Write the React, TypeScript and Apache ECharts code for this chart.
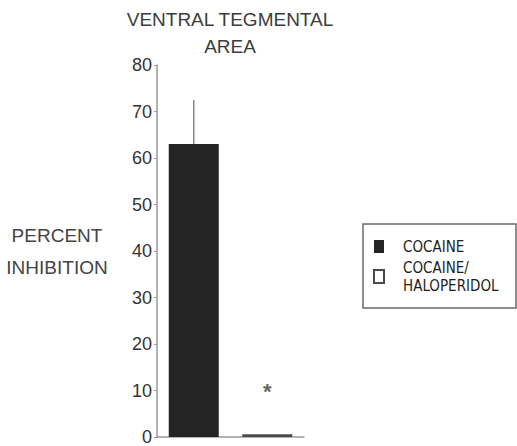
import React, { useEffect, useRef } from "react";
import * as echarts from "echarts";

// Treatment groups and measured inhibition (%) in the ventral tegmental area
const treatments = ["COCAINE", "COCAINE/HALOPERIDOL"];
const meanInhibition = [63, 0.6];
const errorUpper = [72.5, null];
const significanceMark = ["", "*"];
const significanceLevel = [null, 11];

// Y axis scale
const yMin = 0;
const yMax = 80;
const yStep = 10;

const barColors = ["#242424", "#ffffff"];
const barBorders = ["#242424", "#4a4a4a"];

export default function App() {
  const ref = useRef<HTMLDivElement>(null);

  useEffect(() => {
    if (!ref.current) return;
    const chart = echarts.init(ref.current, null, { renderer: "svg" });

    const barSeries = treatments.map((name, i) => ({
      name,
      type: "bar",
      barWidth: 50,
      barGap: "-100%",
      data: treatments.map((_, j) => (j === i ? meanInhibition[j] : "-")),
      itemStyle: {
        color: barColors[i],
        borderColor: barBorders[i],
        borderWidth: i === 0 ? 0 : 1.5,
      },
    }));

    const errorData = errorUpper
      .map((hi, i) => (hi == null ? null : [i, meanInhibition[i], hi]))
      .filter((d) => d !== null);

    const markData = significanceLevel
      .map((lv, i) => (lv == null ? null : { value: [i, lv], mark: significanceMark[i] }))
      .filter((d) => d !== null);

    chart.setOption({
      animation: false,
      backgroundColor: "#ffffff",
      title: {
        text: "VENTRAL TEGMENTAL\nAREA",
        left: 230,
        top: 6,
        padding: 0,
        textAlign: "center",
        textStyle: {
          fontFamily: "Liberation Sans",
          fontSize: 19,
          fontWeight: "normal",
          lineHeight: 27,
          color: "#3c3c3c",
        },
      },
      grid: { left: 157, right: 213, top: 65, bottom: 5 },
      legend: {
        orient: "vertical",
        left: 373,
        top: 237.5,
        padding: 0,
        itemGap: -6,
        itemWidth: 10,
        itemHeight: 13,
        icon: "rect",
        selectedMode: false,
        formatter: (name: string) => name.replace("/", "/\n"),
        textStyle: {
          fontFamily: "DejaVu Sans Condensed",
          fontSize: 15,
          lineHeight: 18,
          color: "#1e1e1e",
        },
        data: [
          {
            name: treatments[0],
            textStyle: { padding: [0, 0, 0, 14] },
          },
          {
            name: treatments[1],
            textStyle: { padding: [18, 0, 0, 14] },
          },
        ],
      },
      graphic: [
        {
          type: "rect",
          shape: { x: 363, y: 224, width: 153, height: 84 },
          style: { fill: "none", stroke: "#6a6a6a", lineWidth: 1.5 },
          silent: true,
        },
      ],
      xAxis: {
        type: "category",
        data: treatments,
        axisLabel: { show: false },
        axisTick: { show: false },
        axisLine: { lineStyle: { color: "#9a9a9a", width: 1.5 } },
      },
      yAxis: {
        type: "value",
        min: yMin,
        max: yMax,
        interval: yStep,
        splitLine: { show: false },
        axisLine: { show: true, lineStyle: { color: "#9a9a9a", width: 1.5 } },
        axisTick: { show: true, length: 3, lineStyle: { color: "#9a9a9a" } },
        axisLabel: {
          fontFamily: "Liberation Sans",
          fontSize: 18,
          color: "#333333",
          margin: 5,
        },
        name: "PERCENT\nINHIBITION",
        nameLocation: "middle",
        nameRotate: 0,
        nameGap: 100,
        nameTextStyle: {
          fontFamily: "Liberation Sans",
          fontSize: 19,
          lineHeight: 32,
          align: "center",
          color: "#444444",
          padding: [0, 0, 5, 0],
        },
      },
      series: [
        ...barSeries,
        {
          name: "error",
          type: "custom",
          silent: true,
          data: errorData,
          renderItem: (_params: any, api: any) => {
            const x = api.value(0);
            const p1 = api.coord([x, api.value(1)]);
            const p2 = api.coord([x, api.value(2)]);
            return {
              type: "line",
              shape: { x1: p1[0], y1: p1[1], x2: p2[0], y2: p2[1] },
              style: { stroke: "#8a8a8a", lineWidth: 1.5 },
            };
          },
          z: 1,
        },
        {
          name: "significance",
          type: "scatter",
          silent: true,
          symbolSize: 1,
          itemStyle: { color: "rgba(0,0,0,0)" },
          data: markData,
          label: {
            show: true,
            position: "inside",
            formatter: (p: any) => p.data.mark,
            fontFamily: "Liberation Sans",
            fontSize: 22,
            fontWeight: "bold",
            color: "#3a3a3a",
            offset: [0, 6],
          },
        },
      ],
    });

    return () => chart.dispose();
  }, []);

  return (
    <div
      ref={ref}
      style={{ position: "absolute", left: 0, top: 0, width: 517, height: 446 }}
    />
  );
}
